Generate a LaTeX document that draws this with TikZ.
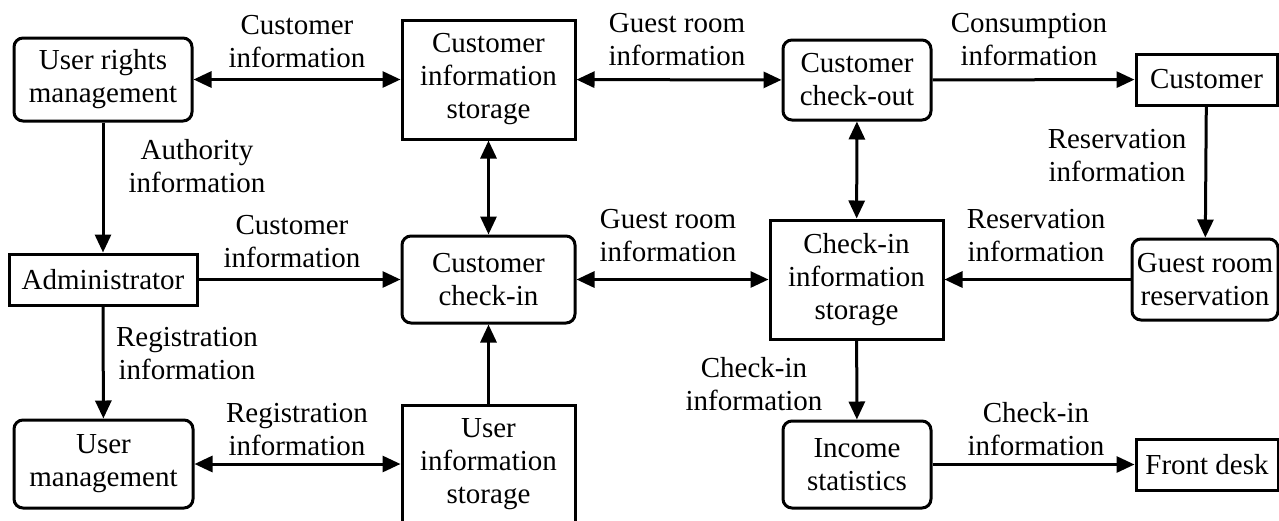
\documentclass[tikz,border=0pt]{standalone}
\usepackage{fontspec}
\setmainfont{Liberation Serif}
\usetikzlibrary{arrows.meta}
\begin{document}
\begin{tikzpicture}[x=1pt,y=-1pt,
  every node/.style={font=\fontsize{29}{33}\selectfont, align=center, inner sep=0pt},
  procbox/.style={draw, line width=3pt, rounded corners=9pt},
  dstore/.style={draw, line width=3pt},
  tipA/.tip={Triangle[length=18pt,width=16pt]},
  flow/.style={line width=3pt, -tipA},
  biflow/.style={line width=3pt, tipA-tipA},
]
\useasboundingbox (0,0) rectangle (1279,520);
\begin{scope}
\clip (0,0) rectangle (1279,520);
% processes and data stores
\node[procbox, minimum width=178pt, minimum height=83pt] (urm) at (103,79.5) {User rights\\management};
\node[dstore, minimum width=173pt, minimum height=119pt] (cis) at (488.5,79.5) {Customer\\information\\storage};
\node[procbox, minimum width=148pt, minimum height=80pt] (cco) at (857,80) {Customer\\check-out};
\node[dstore, minimum width=141pt, minimum height=51pt] (cust) at (1206.5,79.5) {Customer};
\node[dstore, minimum width=188pt, minimum height=51pt] (admin) at (103,279.5) {Administrator};
\node[procbox, minimum width=173pt, minimum height=87pt] (cci) at (488.5,279.5) {Customer\\check-in};
\node[dstore, minimum width=173pt, minimum height=119pt] (cks) at (856.5,279.5) {Check-in\\information\\storage};
\node[procbox, minimum width=146pt, minimum height=81pt] (grr) at (1205,279.5) {Guest room\\reservation};
\node[procbox, minimum width=179pt, minimum height=88pt] (um) at (103.5,464) {User\\management};
\node[dstore, minimum width=173pt, minimum height=119pt] (uis) at (488.5,464.5) {User\\information\\storage};
\node[procbox, minimum width=148pt, minimum height=87pt] (inc) at (857,464.5) {Income\\statistics};
\node[dstore, minimum width=142pt, minimum height=51pt] (fd) at (1207,464.5) {Front desk};
\end{scope}

% data flows
\draw[biflow] (urm) -- (cis);
\draw[biflow] (cis) -- (cco);
\draw[flow] (cco) -- (cust);
\draw[flow] (cust) -- (grr);
\draw[flow] (urm) -- (admin);
\draw[flow] (admin) -- (um);
\draw[flow] (admin) -- (cci);
\draw[biflow] (um) -- (uis.west |- um.east);
\draw[flow] (uis.north) -- (cci);
\draw[biflow] (cci) -- (cis);
\draw[biflow] (cci) -- (cks);
\draw[biflow] (cco) -- (cks);
\draw[flow] (grr) -- (cks);
\draw[flow] (cks) -- (inc);
\draw[flow] (inc) -- (fd);

% flow labels
\node (l1) at (297,42) {Customer\\information};
\node (l2) at (677,40) {Guest room\\information};
\node (l3) at (1029,40) {Consumption\\information};
\node (l4) at (1117,156) {Reservation\\information};
\node (l5) at (197,166) {Authority\\information};
\node (l6) at (292,242) {Customer\\information};
\node (l7) at (187,354) {Registration\\information};
\node (l8) at (297,430) {Registration\\information};
\node (l9) at (668,236) {Guest room\\information};
\node (l10) at (754,384) {Check-in\\information};
\node (l11) at (1036,236) {Reservation\\information};
\node (l12) at (1036,429) {Check-in\\information};
\end{tikzpicture}
\end{document}
